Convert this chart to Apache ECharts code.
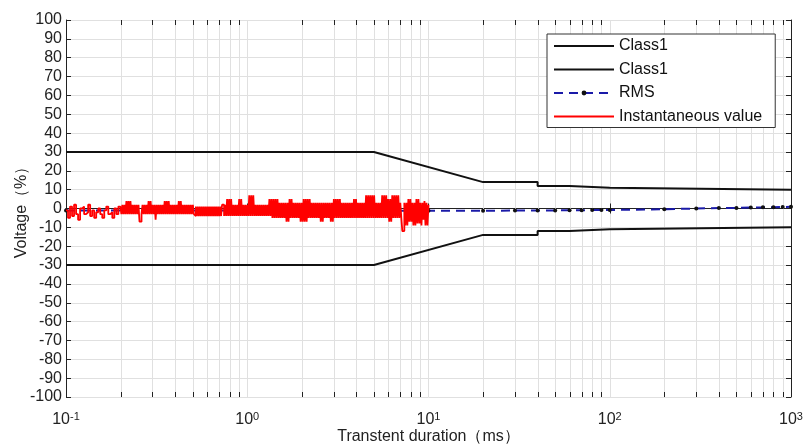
<!DOCTYPE html>
<html><head><meta charset="utf-8">
<script src="https://cdn.jsdelivr.net/npm/echarts@6/dist/echarts.min.js"></script>
<style>html,body{margin:0;padding:0;background:#fff}#c{width:803px;height:445px}</style>
</head><body><div id="c"></div>
<script>
// ---- data ----
const xTickExponents = ['-1', '0', '1', '2', '3'];
const yMin = -100, yMax = 100, yStep = 10;
const minorTicks = [0.2,0.3,0.4,0.5,0.6,0.7,0.8,0.9, 2,3,4,5,6,7,8,9, 20,30,40,50,60,70,80,90, 200,300,400,500,600,700,800,900];

const class1UpperT = [0.1, 5, 20, 40, 40, 60, 60, 100, 100, 1000];
const class1UpperV = [30, 30, 14, 14, 12, 12, 11, 11, 10, 10];
const class1LowerT = [0.1, 5, 20, 40, 40, 60, 60, 100, 100, 1000];
const class1LowerV = [-30, -30, -14, -14, -12, -12, -11, -11, -10, -10];

const rmsT = [0.1, 10, 20, 30, 40, 50, 60, 70, 80, 90, 100, 200, 300, 400, 500, 600, 700, 800, 900, 1000];
const rmsV = [-1, -1.2, -1.2, -1.1, -1, -1, -0.9, -0.9, -0.8, -0.8, -0.8, -0.4, 0, 0.2, 0.3, 0.5, 0.6, 0.7, 0.8, 0.9];

// instantaneous samples (log-spaced sample grid from instStart to instEnd)
const instStart = 0.1, instEnd = 10;
const instV = [
  // 0.1 - 0.2 ms
  -1,-1,-5,-5,1,1,-4,-4,2,2,-3,-3,-6,-6,0,0,1,1,-3,-3,-2,-2,2,2,-4,-4,-1,-1,
  -5,-5,-2,-2,0,0,-3,-3,-5,-5,-1,-1,1,1,-3,-3,-2,-2,-5,-5,0,0,-3,-3,1,1,
  // 0.2 - 0.5 ms
  2,-3,2,-3,2,-3,4,-3,4,-3, 4,-3,2,-3,2,-3,2,-3,2,-7, -7,-3,2,-3,2,-3,2,-3,4,-3,
  4,-3,2,-3,2,-6,2,-3,2,-3, 2,-3,2,-3,4,-3,4,-3,4,-3, 2,-3,2,-3,2,-3,2,-3,4,-3,
  4,-3,2,-3,2,-3,2,-3,2,-3, 2,-3,2,-3,
  // 0.5 - 0.7 ms
  -4,1,-4,1,-4,1,-4,1,-4,1,-4,1,-4,1,-4,1,-4,1,-4,1,-4,1,-4,1,-4,1,-4,2,
  // 0.7 - 1.3 ms
  2,-4,2,-4,5,-4,5,-4,5,-4, 2,-4,2,-4,2,-4,5,-4,5,-4, 2,-4,2,-4,2,-4,7,-4,7,-4,
  7,-4,2,-4,2,-4,2,-4,2,-4, 2,-4,2,-4,2,-4,5,-4,
  // 1.3 - 7 ms
  5,-5,5,-5,5,-5,5,-5,3,-5, 3,-5,3,-5,3,-7,3,-7,5,-5, 5,-5,3,-5,3,-5,3,-5,3,-7,
  3,-7,5,-7,5,-7,5,-5,5,-5, 3,-5,3,-5,3,-5,3,-5,3,-7, 3,-7,3,-5,3,-5,3,-5,3,-7,
  3,-7,5,-5,5,-5,5,-5,5,-5, 3,-5,3,-5,3,-5,3,-5,3,-5, 3,-5,5,-5,5,-5,3,-5,3,-5,
  3,-5,3,-5,7,-5,7,-5,7,-5, 7,-5,7,-5,3,-5,3,-5,3,-5, 7,-5,7,-5,7,-5,5,-7,5,-7,
  7,-5,7,-5,7,-5,7,-5,3,-5,
  // dip
  -12,-12,
  // 7 - 10 ms
  3,-9,3,-9,5,-7,5,-7,3,-9,3,-9,5,-8,5,-8,3,-9,3,-6,4,-9,3,-9,2
];

// ---- build ----
const pairs = (t, v) => t.map((x, i) => [x, v[i]]);
const nInst = instV.length;
const instData = instV.map((v, i) => [instStart * Math.pow(instEnd / instStart, i / (nInst - 1)), v]);

const FONT = 'Liberation Sans';
const gridCol = '#e0e0e0';
const txtCol = '#222';

const chart = echarts.init(document.getElementById('c'), null, {renderer: 'canvas'});
chart.setOption({
  animation: false,
  backgroundColor: '#fff',
  grid: {left: 66, right: 12, top: 20, bottom: 48, containLabel: false, outerBoundsMode: 'none'},
  legend: {
    orient: 'vertical', left: 547, top: 34,
    data: [
      {name: 'Class1', itemStyle: {opacity: 0}},
      {name: 'Class1 ', itemStyle: {opacity: 0}},
      {name: 'RMS'},
      {name: 'Instantaneous value', itemStyle: {opacity: 0}}
    ],
    formatter: n => n.trim(),
    itemWidth: 60, itemHeight: 6, itemGap: 7.5,
    padding: [4, 13, 3, 6],
    backgroundColor: '#fff', borderColor: '#333', borderWidth: 1, borderRadius: 0,
    textStyle: {fontSize: 16, color: '#111', fontFamily: FONT}
  },
  xAxis: [{
    type: 'log', logBase: 10, min: 0.1, max: 1000,
    axisLine: {lineStyle: {color: txtCol, width: 1}},
    axisTick: {inside: true, length: 5, lineStyle: {color: txtCol}},
    splitLine: {show: true, lineStyle: {color: gridCol, width: 1}},
    axisLabel: {
      margin: 14,
      formatter: v => '{b|10}{s|' + xTickExponents[Math.round(Math.log10(v)) + 1] + '}',
      rich: {
        b: {fontSize: 16, fontFamily: FONT, color: txtCol, lineHeight: 18},
        s: {fontSize: 11, fontFamily: FONT, color: txtCol, lineHeight: 11, verticalAlign: 'top'}
      }
    },
    name: 'Transtent duration（ms）', nameLocation: 'middle', nameGap: 32, nameMoveOverlap: false,
    nameTextStyle: {fontSize: 16, fontFamily: FONT, color: txtCol}
  }, {
    type: 'log', logBase: 10, min: 0.1, max: 1000, position: 'top',
    axisLine: {lineStyle: {color: txtCol, width: 1}},
    axisTick: {inside: true, length: 5, lineStyle: {color: txtCol}},
    axisLabel: {show: false}, splitLine: {show: false}
  }],
  yAxis: [{
    type: 'value', min: yMin, max: yMax, interval: yStep,
    axisLine: {show: true, lineStyle: {color: txtCol, width: 1}},
    axisTick: {show: true, inside: true, length: 5, lineStyle: {color: txtCol}},
    splitLine: {show: true, lineStyle: {color: gridCol, width: 1}},
    axisLabel: {fontSize: 16, fontFamily: FONT, color: txtCol, margin: 4},
    name: 'Voltage（%）', nameLocation: 'middle', nameGap: 36, nameMoveOverlap: false,
    nameTextStyle: {fontSize: 16, fontFamily: FONT, color: txtCol}
  }, {
    type: 'value', min: yMin, max: yMax, interval: yStep, position: 'right',
    axisLine: {show: true, lineStyle: {color: txtCol, width: 1}},
    axisTick: {show: true, inside: true, length: 5, lineStyle: {color: txtCol}},
    axisLabel: {show: false}, splitLine: {show: false}
  }],
  series: [
    {
      type: 'custom', silent: true, z: 1,
      data: minorTicks.map(v => [v, 0]),
      renderItem(params, api) {
        const cs = params.coordSys;
        const x = Math.round(api.coord([api.value(0), 0])[0]) + 0.5;
        const yb = cs.y + cs.height;
        return {type: 'group', children: [
          {type: 'line', shape: {x1: x, y1: cs.y, x2: x, y2: yb}, style: {stroke: gridCol, lineWidth: 1}},
          {type: 'line', shape: {x1: x, y1: yb, x2: x, y2: yb - 5}, style: {stroke: txtCol, lineWidth: 1}},
          {type: 'line', shape: {x1: x, y1: cs.y, x2: x, y2: cs.y + 5}, style: {stroke: txtCol, lineWidth: 1}}
        ]};
      }
    },
    {name: 'Class1', type: 'line', symbol: 'none', data: pairs(class1UpperT, class1UpperV),
     lineStyle: {color: '#111', width: 2}, itemStyle: {color: '#111'}, z: 3},
    {name: 'Class1 ', type: 'line', symbol: 'none', data: pairs(class1LowerT, class1LowerV),
     lineStyle: {color: '#111', width: 2}, itemStyle: {color: '#111'}, z: 3},
    {name: 'RMS', type: 'line', symbol: 'circle', symbolSize: 4, showSymbol: true, data: pairs(rmsT, rmsV),
     lineStyle: {color: '#1a1aa8', width: 2, type: [9, 6]}, itemStyle: {color: '#111'}, z: 4},
    {name: 'Instantaneous value', type: 'line', symbol: 'none', step: 'end', data: instData,
     lineStyle: {color: '#ff0000', width: 1.8}, itemStyle: {color: '#ff0000'}, z: 5}
  ]
});
</script>
</body></html>
